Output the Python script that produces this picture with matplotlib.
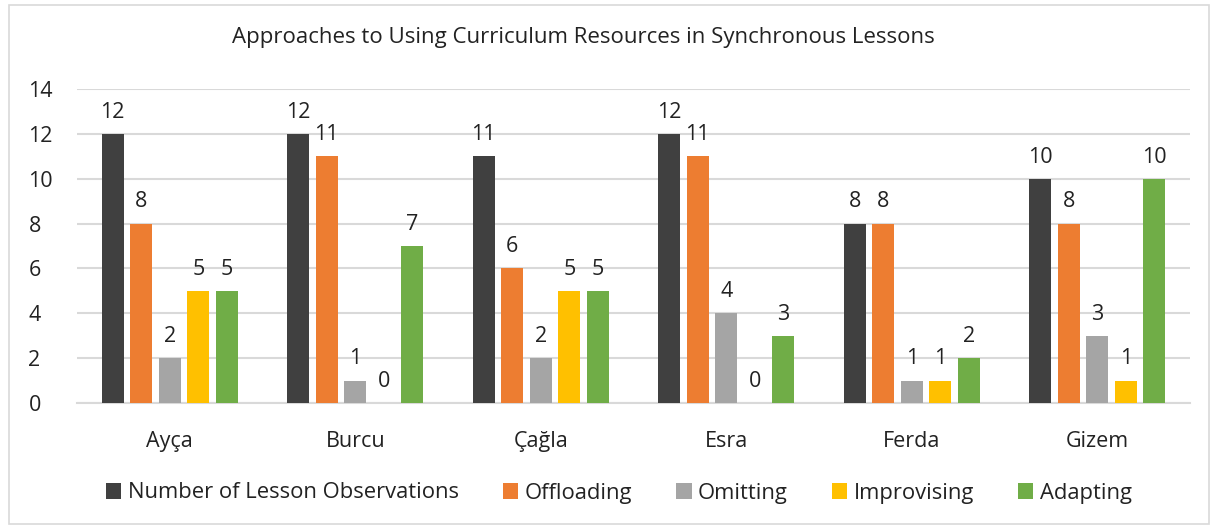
import matplotlib.pyplot as plt
import numpy as np

# data
teachers = ['Ayça', 'Burcu', 'Çağla', 'Esra', 'Ferda', 'Gizem']
series_names = ['Number of Lesson Observations', 'Offloading', 'Omitting',
                'Improvising', 'Adapting']
observations = [12, 12, 11, 12, 8, 10]
offloading = [8, 11, 6, 11, 8, 8]
omitting = [2, 1, 2, 4, 1, 3]
improvising = [5, 0, 5, 0, 1, 1]
adapting = [5, 7, 5, 3, 2, 10]
colors = ['#404040', '#ed7d31', '#a5a5a5', '#ffc000', '#70ad47']

plt.rcParams['font.family'] = ['Open Sans', 'DejaVu Sans']

fig = plt.figure(figsize=(12.14, 5.28), dpi=100)
ax = fig.add_axes([77 / 1214, 1 - 403 / 528, 1113 / 1214, 314 / 528])

x = np.arange(len(teachers))
step = 0.154
width = 0.119
all_series = [observations, offloading, omitting, improvising, adapting]
for i, (vals, name, c) in enumerate(zip(all_series, series_names, colors)):
    pos = x + (i - 2) * step
    bars = ax.bar(pos, vals, width, color=c, label=name, zorder=3)
    for xp, v in zip(pos, vals):
        ax.annotate(str(v), (xp, v), xytext=(0, 8), textcoords='offset points',
                    ha='center', va='bottom', fontsize=15.5, color='#222222')

ax.set_xlim(-0.5, len(teachers) - 0.5)
ax.set_ylim(0, 14)
ax.set_yticks(range(0, 15, 2))
ax.set_xticks(x)
ax.set_xticklabels(teachers)
ax.tick_params(axis='both', length=0, labelsize=15.5, colors='#222222')
ax.tick_params(axis='x', pad=20)
ax.tick_params(axis='y', pad=35)
for lbl in ax.get_yticklabels():
    lbl.set_horizontalalignment('left')
ax.grid(axis='y', color='#d9d9d9', linewidth=1.5, zorder=0)
for s in ['top', 'right', 'left']:
    ax.spines[s].set_visible(False)
ax.spines['bottom'].set_color('#d9d9d9')
ax.spines['bottom'].set_linewidth(1.5)

fig.text(583 / 1214, 1 - 38 / 528, 'Approaches to Using Curriculum Resources in Synchronous Lessons',
         ha='center', va='center', fontsize=16, color='#222222')

fig.legend(loc='center', bbox_to_anchor=(619 / 1214, 1 - 493 / 528), ncol=5,
           frameon=False, fontsize=15.8, handlelength=0.7, handleheight=0.7,
           handletextpad=0.3, columnspacing=2.0, labelcolor='#222222')

# outer border
fig.patches.append(plt.Rectangle((9 / 1214, 4 / 528), 1200 / 1214, 519 / 528,
                                 transform=fig.transFigure, fill=False,
                                 edgecolor='#d9d9d9', linewidth=1.2))

fig.savefig('out.png', dpi=100)
